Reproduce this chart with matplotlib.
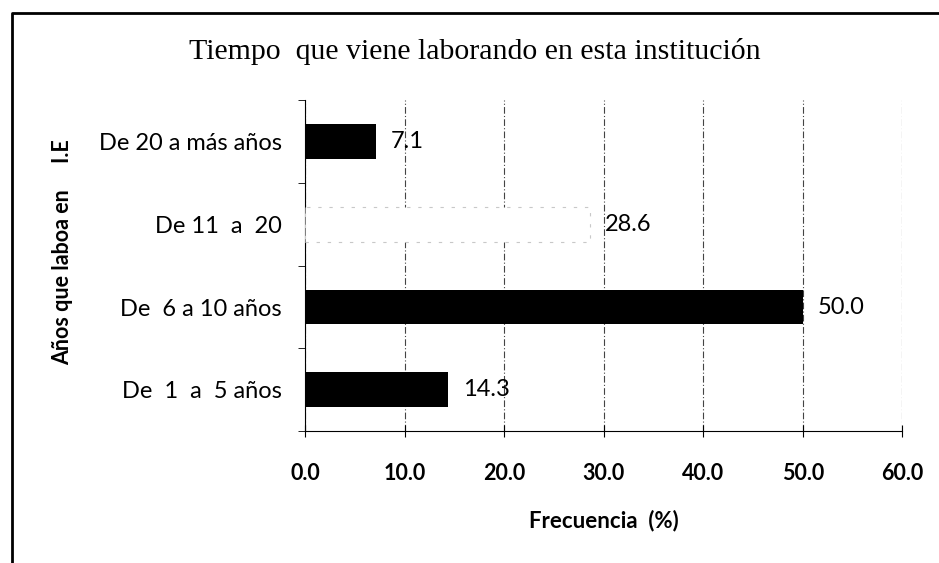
import numpy as np
import matplotlib
matplotlib.use("Agg")
import matplotlib.pyplot as plt
from matplotlib.lines import Line2D

plt.rcParams["font.family"] = ["Lato", "DejaVu Sans"]

# datos
categorias = ["De  1  a  5 años", "De  6 a 10 años", "De 11  a  20", "De 20 a más años"]
frecuencia = [14.3, 50.0, 28.6, 7.1]
colores = ["black", "black", "white", "black"]
xticks = [0, 10, 20, 30, 40, 50, 60]

fig = plt.figure(figsize=(9.39, 5.63), dpi=100)
ax = fig.add_axes([0.325, 0.234, 0.636, 0.588])

y = np.arange(len(categorias))
bars = ax.barh(y, frecuencia, height=0.42, color=colores, zorder=3)
# barra blanca con contorno punteado tenue
bars[2].set_edgecolor("#c8c8c8")
bars[2].set_linestyle((0, (3, 7)))
bars[2].set_linewidth(0.8)

for yi, v in zip(y, frecuencia):
    ax.annotate(f"{v:.1f}", (v, yi), xytext=(11, 0), textcoords="offset points",
                ha="left", va="center", fontsize=17, zorder=4)

ax.set_xlim(0, 60)
ax.set_ylim(-0.5, 3.5)
ax.set_xticks(xticks)
ax.set_xticklabels([f"{t:.1f}" for t in xticks], fontsize=15.5, fontweight="bold")
ax.set_yticks(y)
ax.set_yticklabels(categorias, fontsize=17)
ax.set_yticks(np.arange(-0.5, 4, 1), minor=True)
ax.tick_params(axis="y", which="major", length=0, pad=17)
ax.tick_params(axis="y", which="minor", length=5, direction="out")
ax.tick_params(axis="x", direction="inout", length=9, pad=18)

ax.grid(axis="x", color="#444444", linestyle=(0, (6, 2, 1, 2)), linewidth=0.8, zorder=0)
for s in ["top", "right"]:
    ax.spines[s].set_visible(False)

ax.set_xlabel("Frecuencia  (%)", fontsize=16, fontweight="bold")
ax.xaxis.set_label_coords(0.5, -0.236)
ax.set_ylabel("Años que laboa en     I.E", fontsize=15.5, fontweight="bold")
ax.yaxis.set_label_coords(-0.389, 0.541)

fig.text(0.506, 0.908, "Tiempo  que viene laborando en esta institución",
         family="Liberation Serif", fontsize=21.5, ha="center", va="center")

# marco (solo izquierda y arriba)
fig.lines.append(Line2D([0.013, 0.013, 1.0], [0.0, 0.977, 0.977], transform=fig.transFigure,
                        color="black", linewidth=2))

fig.savefig("out.png", dpi=100)
